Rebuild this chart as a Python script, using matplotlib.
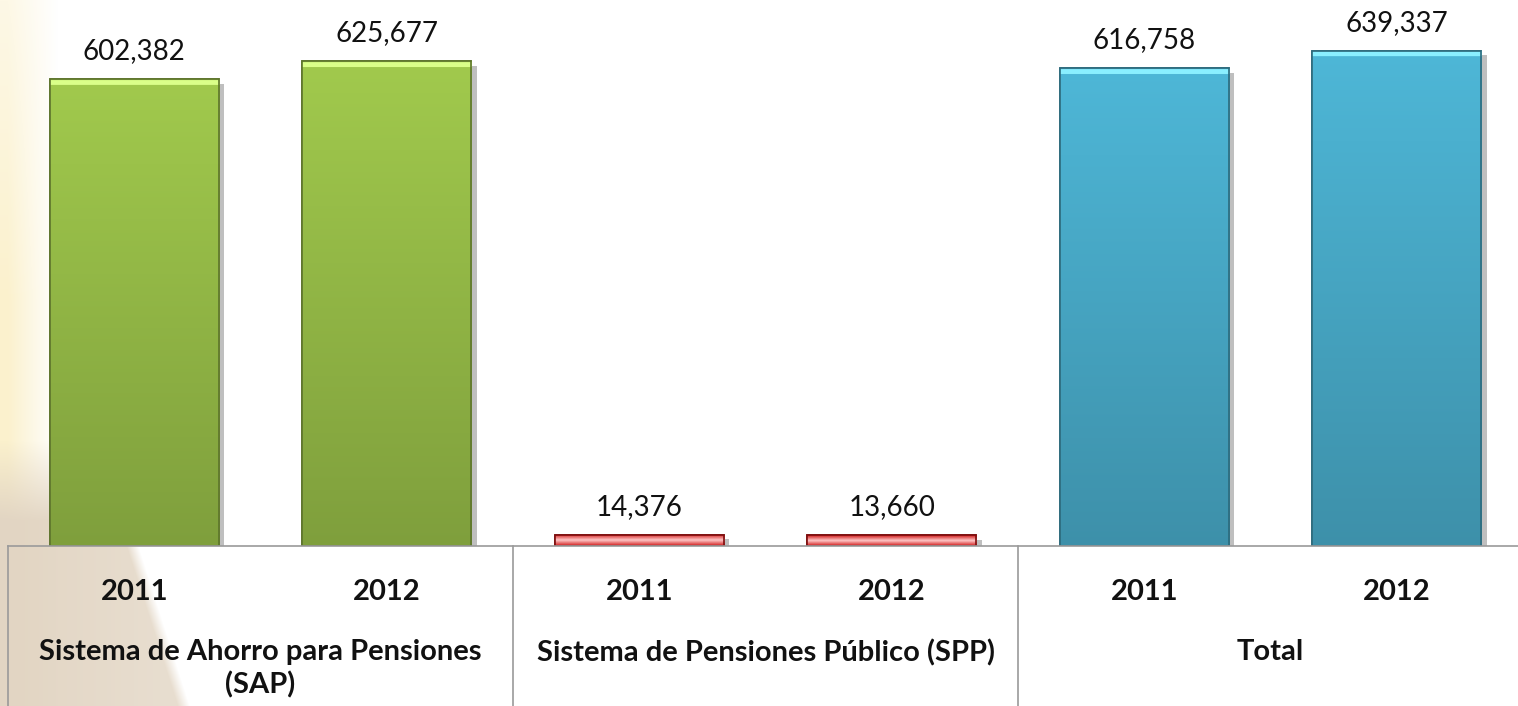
import matplotlib
matplotlib.use("Agg")
import matplotlib.pyplot as plt
import matplotlib.patheffects as pe
import matplotlib.transforms as mtransforms
import numpy as np

years = ["2011", "2012", "2011", "2012", "2011", "2012"]
values = [602382, 625677, 14376, 13660, 616758, 639337]
groups = ["Sistema de Ahorro para Pensiones\n(SAP)",
          "Sistema de Pensiones Público (SPP)",
          "Total"]
group_colors = ["#9bc24a", "#9bc24a", "#d01818", "#d01818", "#4bb0cf", "#4bb0cf"]

plt.rcParams['font.family'] = ['Lato', 'DejaVu Sans']

W, H = 1518, 706
fig = plt.figure(figsize=(W / 100, H / 100), dpi=100)

# background: cream strip on the left, tan wedge in the lower-left corner
bg = fig.add_axes([0, 0, 1, 1], zorder=-10)
yy, xx = np.mgrid[0:H, 0:W].astype(float)
img = np.ones((H, W, 3))
cream = np.array([251, 241, 205]) / 255
a = np.clip(1.15 - xx / 50, 0, 1) * (0.5 + 0.5 * np.clip(yy / 300, 0, 1))
img = img * (1 - a[..., None]) + cream * a[..., None]
tan = np.array([226, 213, 195]) / 255
edge = 138 + (yy - 545) * 0.32
b = np.clip((edge - xx) / 12, 0, 1) * np.clip((yy - 440) / 80, 0, 1)
b = b * (0.8 + 0.2 * np.clip(1 - xx / 160, 0, 1))
img = img * (1 - b[..., None]) + tan * b[..., None]
bg.imshow(img, aspect='auto', extent=(0, W, H, 0))
bg.set_axis_off()

base_px = 546
ax = fig.add_axes([8 / W, (H - base_px) / H, 1 - 8 / W, base_px / H])
ax.patch.set_alpha(0)
x = np.arange(len(values))
shadow = [pe.SimplePatchShadow(offset=(4, -3), shadow_rgbFace='black', alpha=0.25), pe.Normal()]
bars = ax.bar(x, values, width=0.67, color=group_colors, zorder=3)

ax.set_xlim(-0.5, 5.48)
ax.set_ylim(0, 705000)

for rect, col in zip(bars, group_colors):
    rgb = np.array(matplotlib.colors.to_rgb(col))
    dark = rgb * 0.6
    rect.set_edgecolor(dark)
    rect.set_linewidth(1.2)
    rect.set_path_effects(shadow)
    x0, w, h = rect.get_x(), rect.get_width(), rect.get_height()
    if h > 50000:
        grad = np.linspace(0, 1, 400)[:, None]
        top = np.clip(rgb * 1.04, 0, 1)
        bot = rgb * 0.82
        g = top * (1 - grad[..., None]) + bot * grad[..., None]
        g = np.repeat(g, 2, axis=1)
        # thin light bevel at the top
        g[1:5] = np.clip(rgb + 0.25, 0, 1)
    else:
        grad = np.abs(np.linspace(-1, 1, 50))[:, None]
        light = np.array([1.0, 0.78, 0.78])
        g = light * (1 - grad[..., None]) + rgb * grad[..., None]
        g = np.repeat(g, 2, axis=1)
    im = ax.imshow(g, extent=(x0, x0 + w, 0, h), aspect='auto', zorder=4)
    im.set_clip_path(rect)
    ax.bar(rect.get_x() + w / 2, h, width=w, fill=False, edgecolor=dark, linewidth=1.2, zorder=5)

for rect, v in zip(bars, values):
    ax.annotate(f"{v:,}", xy=(rect.get_x() + rect.get_width() / 2, rect.get_height()),
                xytext=(0, 11), textcoords="offset points", ha='center', va='bottom',
                fontsize=20, color='#111111')

for s in ax.spines.values():
    s.set_visible(False)
ax.set_xticks([])
ax.set_yticks([])

# category table under the bars
trans = mtransforms.blended_transform_factory(ax.transData, ax.transAxes)
ax.plot([-0.5, 5.48], [0, 0], color='#9a9a9a', lw=1.2, transform=trans, clip_on=False, zorder=6)
for gx in [-0.5, 1.5, 3.5]:
    ax.plot([gx, gx], [0, -0.3], color='#9a9a9a', lw=1.2, transform=trans, clip_on=False)

for xi, yr in zip(x, years):
    ax.text(xi, -46 / base_px, yr, transform=trans, ha='center', va='center',
            fontsize=21, fontweight='bold', color='#111111')
for gi, g in enumerate(groups):
    ax.text(gi * 2 + 0.5, -93 / base_px, g, transform=trans, ha='center', va='top',
            fontsize=21, fontweight='bold', color='#111111', linespacing=1.3)

fig.savefig("out.png", dpi=100)
